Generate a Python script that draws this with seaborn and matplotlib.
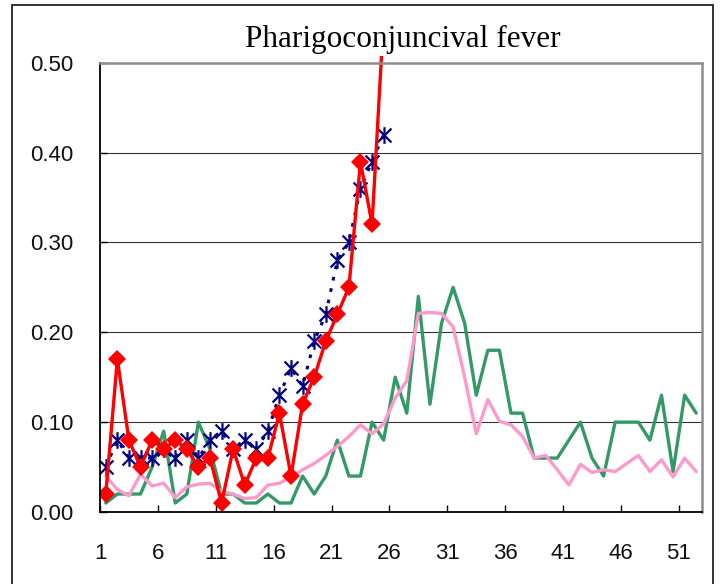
import matplotlib
matplotlib.use("Agg")
import pandas as pd
import matplotlib.pyplot as plt
from matplotlib.patches import Rectangle
from matplotlib.path import Path
import seaborn as sns

# weekly rates (per sentinel)
weeks = list(range(1, 53))
weeks_now = list(range(1, 26))
season_now = [0.02, 0.17, 0.08, 0.05, 0.08, 0.07, 0.08, 0.07, 0.05, 0.06,
              0.01, 0.07, 0.03, 0.06, 0.06, 0.11, 0.04, 0.12, 0.15, 0.19,
              0.22, 0.25, 0.39, 0.32, 0.55]
season_prev = [0.05, 0.08, 0.06, 0.06, 0.06, 0.07, 0.06, 0.08, 0.06, 0.08,
               0.09, 0.07, 0.08, 0.07, 0.09, 0.13, 0.16, 0.14, 0.19, 0.22,
               0.28, 0.30, 0.36, 0.39, 0.42]
season_b = [0.01, 0.02, 0.02, 0.02, 0.05, 0.09, 0.01, 0.02, 0.10, 0.07,
            0.02, 0.02, 0.01, 0.01, 0.02, 0.01, 0.01, 0.04, 0.02, 0.04,
            0.08, 0.04, 0.04, 0.10, 0.08, 0.15, 0.11, 0.24, 0.12, 0.21,
            0.25, 0.21, 0.13, 0.18, 0.18, 0.11, 0.11, 0.06, 0.06, 0.06,
            0.08, 0.10, 0.06, 0.04, 0.10, 0.10, 0.10, 0.08, 0.13, 0.045,
            0.13, 0.11]
mean_5y = [0.04, 0.025, 0.018, 0.042, 0.029, 0.032, 0.016, 0.028, 0.031, 0.032,
           0.023, 0.02, 0.015, 0.016, 0.03, 0.032, 0.039, 0.047, 0.054, 0.063,
           0.073, 0.084, 0.097, 0.087, 0.098, 0.127, 0.146, 0.221, 0.222, 0.221,
           0.206, 0.15, 0.087, 0.125, 0.101, 0.097, 0.084, 0.06, 0.063, 0.047,
           0.03, 0.053, 0.044, 0.047, 0.045, 0.054, 0.063, 0.045, 0.058, 0.039,
           0.06, 0.045]
x_labels = ["1", "6", "11", "16", "21", "26", "31", "36", "41", "46", "51"]
y_labels = ["0.00", "0.10", "0.20", "0.30", "0.40", "0.50"]
title = "Pharigoconjuncival fever"

sns.set_style("white")
plt.rcParams["font.family"] = ["Liberation Sans", "DejaVu Sans"]

fig = plt.figure(figsize=(7.23, 5.84), dpi=100)
ax = fig.add_axes([100 / 723, 1 - 512 / 584, 602 / 723, 449.3 / 584])

df_full = pd.DataFrame({"week": weeks, "b": season_b, "mean": mean_5y})
df_now = pd.DataFrame({"week": weeks_now, "now": season_now, "prev": season_prev})

sns.lineplot(data=df_full, x="week", y="b", ax=ax, color="#339966", lw=2.4)
sns.lineplot(data=df_full, x="week", y="mean", ax=ax, color="#FF99CC", lw=2.4)

# Excel-style star marker (X with a vertical bar)
star = Path([(-1, -1), (1, 1), (-1, 1), (1, -1), (0, -1.2), (0, 1.2)],
            [Path.MOVETO, Path.LINETO, Path.MOVETO, Path.LINETO, Path.MOVETO, Path.LINETO])
sns.lineplot(data=df_now, x="week", y="prev", ax=ax, color="#000080", lw=2.2,
             linestyle=(0, (1.2, 2.6)), marker=star, markersize=12,
             markeredgecolor="#000080", markerfacecolor="none", markeredgewidth=1.6)

sns.lineplot(data=df_now, x="week", y="now", ax=ax, color="#FF0000", lw=2.4,
             marker="D", markersize=9.5, markeredgecolor="#FF0000",
             markerfacecolor="#FF0000", markeredgewidth=0)
# the red line runs a little past the top of the plot area, as in the original
clip = Rectangle((0, -0.05), 1, 1.065, transform=ax.transAxes, fill=False)
ax.lines[-1].set_clip_path(clip)

ax.set_xlim(0.5, 52.5)
ax.set_ylim(0, 0.5)
ax.set_xlabel("")
ax.set_ylabel("")

# ticks every 5 weeks on the category boundaries, labelled 1, 6, 11, ...
ax.set_xticks([0.5 + 5 * i for i in range(11)])
ax.set_xticklabels(x_labels)
ax.tick_params(axis="x", direction="in", length=5, width=1, color="black", bottom=True,
               pad=22, labelsize=16, labelcolor="#111111")

ax.set_yticks([0, 0.1, 0.2, 0.3, 0.4, 0.5])
ax.set_yticklabels(y_labels)
ax.tick_params(axis="y", direction="in", length=5, width=1, color="black", left=True, pad=19,
               labelsize=16, labelcolor="#111111")

for v in [0.1, 0.2, 0.3, 0.4]:
    ax.axhline(v, color="#333333", lw=0.8, zorder=0.5)

for side in ["left", "bottom"]:
    ax.spines[side].set_color("black")
    ax.spines[side].set_linewidth(1.3)
for side in ["top", "right"]:
    ax.spines[side].set_color("#8c8c8c")
    ax.spines[side].set_linewidth(1.8)
    ax.spines[side].set_visible(True)

fig.text(403 / 723, 1 - 47 / 584, title, ha="center", va="baseline",
         fontsize=22.5, family=["Liberation Serif", "DejaVu Serif"], color="black")

# outer chart-area border
fig.patches.append(Rectangle((12 / 723, -0.02), 701 / 723, 1.02 - 5 / 584,
                             transform=fig.transFigure, fill=False,
                             edgecolor="#222222", lw=1.3))

fig.savefig("out.png", dpi=100)
